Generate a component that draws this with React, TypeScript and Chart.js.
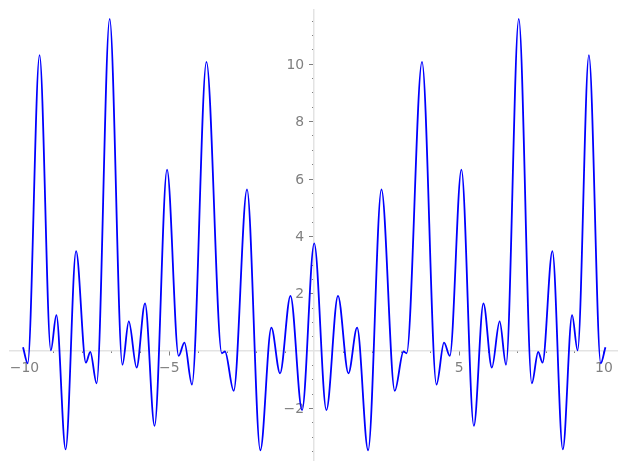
import React, { useEffect, useRef } from "react";
import { Chart, registerables } from "chart.js";

Chart.register(...registerables);

// Curve samples (local extrema)
const xValues = [
  -10.05, -9.89, -9.48, -9.09, -8.9, -8.58, -8.22, -7.88, -7.73, -7.51,
  -7.06, -6.62, -6.4, -6.13, -5.84, -5.51, -5.08, -4.68, -4.48, -4.22,
  -3.72, -3.19, -3.08, -2.78, -2.32, -1.86, -1.48, -1.18, -0.82, -0.42,
  0,
  0.42, 0.82, 1.18, 1.48, 1.86, 2.32, 2.78, 3.08, 3.19, 3.72,
  4.22, 4.48, 4.68, 5.08, 5.51, 5.84, 6.13, 6.4, 6.62, 7.06,
  7.51, 7.73, 7.88, 8.22, 8.58, 8.9, 9.09, 9.48, 9.89, 10.05,
];
const yValues = [
  0.14, -0.42, 10.32, 0.03, 1.26, -3.42, 3.49, -0.4, -0.02, -1.12,
  11.58, -0.47, 1.04, -0.57, 1.67, -2.6, 6.33, -0.16, 0.3, -1.16,
  10.08, -0.07, -0.01, -1.38, 5.64, -3.45, 0.82, -0.77, 1.93, -2.05,
  3.76,
  -2.05, 1.93, -0.77, 0.82, -3.45, 5.64, -1.38, -0.01, -0.07, 10.08,
  -1.16, 0.3, -0.16, 6.33, -2.6, 1.67, -0.57, 1.04, -0.47, 11.58,
  -1.12, -0.02, -0.4, 3.49, -3.42, 1.26, 0.03, 10.32, -0.42, 0.14,
];

// Ticks
const xMajorTicks = [-10, -5, 5, 10];
const xMinorTicks = [
  -10, -9, -8, -7, -6, -5, -4, -3, -2, -1, 1, 2, 3, 4, 5, 6, 7, 8, 9, 10,
];
const yMajorTicks = [-2, 2, 4, 6, 8, 10];
const yMinorTicks = [
  -3.5, -3, -2.5, -2, -1.5, -1, -0.5, 0.5, 1, 1.5, 2, 2.5, 3, 3.5, 4, 4.5,
  5, 5.5, 6, 6.5, 7, 7.5, 8, 8.5, 9, 9.5, 10, 10.5, 11, 11.5,
];

const X_MIN = -10.5;
const X_MAX = 10.45;
const Y_MIN = -3.79;
const Y_MAX = 11.89;

const fmt = (v: number | string) => {
  const n = Number(v);
  return n < 0 ? "\u2212" + Math.abs(n) : String(n);
};

const setTicks = (arr: number[]) => (scale: any) => {
  scale.ticks = arr.map((v) => ({ value: v }));
};

const AXIS_COLOR = "#e3e3e3";
const TICK_COLOR = "#808080";
const LABEL_COLOR = "#808080";
const FONT = { family: "'DejaVu Sans'", size: 13.9 };

export default function App() {
  const ref = useRef<HTMLCanvasElement | null>(null);

  useEffect(() => {
    if (!ref.current) return;
    const chart = new Chart(ref.current, {
      type: "line",
      data: {
        datasets: [
          {
            data: xValues.map((x, i) => ({ x, y: yValues[i] })),
            borderColor: "#0000ff",
            borderWidth: 1.8,
            pointRadius: 0,
            fill: false,
            cubicInterpolationMode: "monotone",
            xAxisID: "x",
            yAxisID: "y",
          },
        ],
      },
      options: {
        responsive: false,
        maintainAspectRatio: false,
        animation: false,
        layout: { padding: { left: 10, right: 10, top: 10, bottom: 10 } },
        plugins: {
          legend: { display: false },
          tooltip: { enabled: false },
        },
        scales: {
          x: {
            type: "linear",
            position: { y: 0 } as any,
            min: X_MIN,
            max: X_MAX,
            afterBuildTicks: setTicks(xMajorTicks),
            ticks: {
              autoSkip: false,
              maxRotation: 0,
              padding: 5,
              font: FONT,
              color: LABEL_COLOR,
              callback: fmt,
            },
            grid: {
              display: true,
              drawOnChartArea: false,
              drawTicks: true,
              tickLength: 4,
              tickColor: TICK_COLOR,
              tickWidth: 1,
            },
            border: { display: true, color: AXIS_COLOR, width: 1.5 },
          },
          xMinor: {
            type: "linear",
            axis: "x",
            position: { y: 0 } as any,
            min: X_MIN,
            max: X_MAX,
            afterBuildTicks: setTicks(xMinorTicks),
            ticks: { display: false },
            grid: {
              display: true,
              drawOnChartArea: false,
              drawTicks: true,
              tickLength: 2,
              tickColor: TICK_COLOR,
              tickWidth: 1,
            },
            border: { display: false },
          },
          y: {
            type: "linear",
            position: { x: 0 } as any,
            min: Y_MIN,
            max: Y_MAX,
            afterBuildTicks: setTicks(yMajorTicks),
            ticks: { display: false },
            grid: {
              display: true,
              drawOnChartArea: false,
              drawTicks: true,
              tickLength: 4,
              tickColor: TICK_COLOR,
              tickWidth: 1,
            },
            border: { display: true, color: AXIS_COLOR, width: 1.5 },
          },
          yMinor: {
            type: "linear",
            axis: "y",
            position: { x: 0 } as any,
            min: Y_MIN,
            max: Y_MAX,
            afterBuildTicks: setTicks(yMinorTicks),
            ticks: { display: false },
            grid: {
              display: true,
              drawOnChartArea: false,
              drawTicks: true,
              tickLength: 2,
              tickColor: TICK_COLOR,
              tickWidth: 1,
            },
            border: { display: false },
          },
          yLabels: {
            type: "linear",
            axis: "y",
            position: { x: -0.35 } as any,
            min: Y_MIN,
            max: Y_MAX,
            afterBuildTicks: setTicks(yMajorTicks),
            ticks: {
              display: true,
              autoSkip: false,
              padding: 0,
              labelOffset: 1,
              font: FONT,
              color: LABEL_COLOR,
              callback: fmt,
            },
            grid: { display: false },
            border: { display: false },
          },
        } as any,
      },
    });
    return () => chart.destroy();
  }, []);

  return (
    <div style={{ position: "absolute", left: 0, top: 0, width: 627, height: 470 }}>
      <canvas ref={ref} width={627} height={470} />
    </div>
  );
}
